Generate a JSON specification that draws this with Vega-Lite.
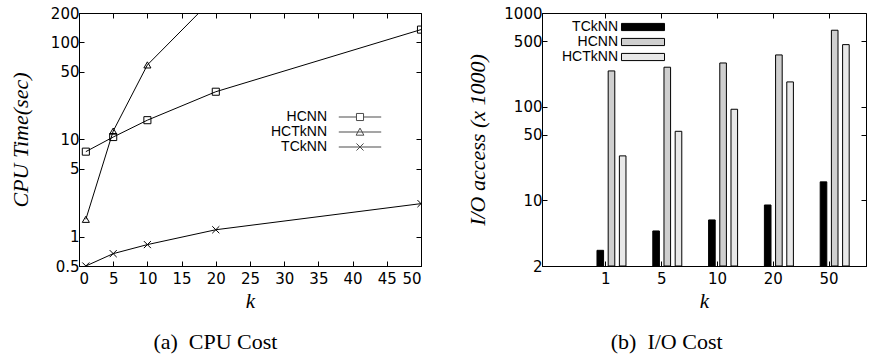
{
  "$schema": "https://vega.github.io/schema/vega-lite/v6.json",
  "padding": {"left": 8, "top": 5, "right": 1, "bottom": 0},
  "background": "white",
  "spacing": 44,
  "config": {
    "view": {"stroke": "black", "strokeWidth": 1},
    "axis": {
      "grid": false,
      "labelFont": "DejaVu Sans",
      "labelFontSize": 15,
      "labelColor": "black",
      "titleFont": "Liberation Serif",
      "titleFontStyle": "italic",
      "titleFontWeight": "normal",
      "titleFontSize": 22,
      "titleColor": "black",
      "tickColor": "black",
      "domainColor": "black",
      "tickSize": -5,
      "labelPadding": 5
    },
    "axisX": {"labelPadding": 10},
    "legend": {
      "labelFont": "Liberation Sans",
      "labelFontSize": 14,
      "labelColor": "black"
    },
    "title": {"font": "Liberation Serif", "fontSize": 22, "fontWeight": "normal", "color": "black"}
  },
  "datasets": {
    "cpu": [
      {"k": 1, "method": "HCNN", "time": 7.5},
      {"k": 5, "method": "HCNN", "time": 10.6},
      {"k": 10, "method": "HCNN", "time": 15.8},
      {"k": 20, "method": "HCNN", "time": 31},
      {"k": 50, "method": "HCNN", "time": 135},
      {"k": 1, "method": "HCTkNN", "time": 1.51},
      {"k": 5, "method": "HCTkNN", "time": 12.2},
      {"k": 10, "method": "HCTkNN", "time": 58.5},
      {"k": 20, "method": "HCTkNN", "time": 300},
      {"k": 50, "method": "HCTkNN", "time": 2000},
      {"k": 1, "method": "TCkNN", "time": 0.5},
      {"k": 5, "method": "TCkNN", "time": 0.67},
      {"k": 10, "method": "TCkNN", "time": 0.83},
      {"k": 20, "method": "TCkNN", "time": 1.18},
      {"k": 50, "method": "TCkNN", "time": 2.19}
    ],
    "io": [
      {"k": 1, "method": "TCkNN", "io": 2.94},
      {"k": 5, "method": "TCkNN", "io": 4.73},
      {"k": 10, "method": "TCkNN", "io": 6.2},
      {"k": 20, "method": "TCkNN", "io": 8.95},
      {"k": 50, "method": "TCkNN", "io": 15.8},
      {"k": 1, "method": "HCNN", "io": 241},
      {"k": 5, "method": "HCNN", "io": 264},
      {"k": 10, "method": "HCNN", "io": 293},
      {"k": 20, "method": "HCNN", "io": 357},
      {"k": 50, "method": "HCNN", "io": 655},
      {"k": 1, "method": "HCTkNN", "io": 29.9},
      {"k": 5, "method": "HCTkNN", "io": 54.7},
      {"k": 10, "method": "HCTkNN", "io": 94},
      {"k": 20, "method": "HCTkNN", "io": 184},
      {"k": 50, "method": "HCTkNN", "io": 460}
    ]
  },
  "hconcat": [
    {
      "width": 342,
      "height": 253,
      "data": {"name": "cpu"},
      "title": {"text": "(a)\u00a0 CPU Cost", "orient": "bottom", "frame": "bounds", "anchor": "middle", "offset": 21},
      "layer": [
        {
          "mark": {"type": "line", "clip": true, "color": "black", "strokeWidth": 1},
          "encoding": {
            "x": {"field": "k", "type": "quantitative", "scale": {"domain": [0, 50], "nice": false},
                  "axis": {"values": [0, 5, 10, 15, 20, 25, 30, 35, 40, 45, 50], "title": "k", "titleFontSize": 21, "titlePadding": 4}},
            "y": {"field": "time", "type": "quantitative", "scale": {"type": "log", "domain": [0.5, 200], "nice": false},
                  "axis": {"values": [0.5, 1, 5, 10, 50, 100, 200], "format": "~g", "title": "CPU Time(sec)", "titlePadding": 18}},
            "detail": {"field": "method"}
          }
        },
        {
          "mark": {"type": "point", "clip": true, "filled": false, "color": "black", "size": 50, "strokeWidth": 1, "opacity": 1},
          "encoding": {
            "x": {"field": "k", "type": "quantitative",
                  "axis": {"orient": "top", "values": [0, 5, 10, 15, 20, 25, 30, 35, 40, 45, 50], "labels": false, "domain": false, "title": null}},
            "y": {"field": "time", "type": "quantitative",
                  "axis": {"orient": "right", "values": [0.5, 1, 5, 10, 50, 100, 200], "labels": false, "domain": false, "title": null}},
            "shape": {"field": "method", "type": "nominal",
                      "scale": {"domain": ["HCNN", "HCTkNN", "TCkNN"], "range": ["square", "triangle-up", "M-1,-1L1,1M-1,1L1,-1"]},
                      "legend": null}
          }
        },
        {
          "transform": [{"filter": "datum.k < 0"}],
          "mark": {"type": "point", "filled": false, "color": "black", "size": 50, "strokeWidth": 1},
          "encoding": {
            "shape": {"field": "method", "type": "nominal",
                      "scale": {"domain": ["HCNN", "HCTkNN", "TCkNN"],
                                "range": ["M-6,0H-1M1,0H6M-1,-1H1V1H-1Z", "M-6,0H6M0,-1.1L1.1,0.9H-1.1Z", "M-6,0H6M-1,-1L1,1M-1,1L1,-1"]},
                      "legend": {"orient": "none", "legendX": 274, "legendY": 97, "title": null,
                                 "labelAlign": "right", "labelOffset": -40, "rowPadding": 1, "symbolSize": 50,
                                 "symbolStrokeColor": "black", "symbolFillColor": "transparent", "symbolStrokeWidth": 1}}
          }
        }
      ],
      "resolve": {"axis": {"x": "independent", "y": "independent"}, "scale": {"shape": "independent"}, "legend": {"shape": "independent"}}
    },
    {
      "width": 324,
      "height": 253,
      "data": {"name": "io"},
      "title": {"text": "(b)\u00a0 I/O Cost", "orient": "bottom", "frame": "bounds", "anchor": "middle", "offset": 21},
      "layer": [
        {
          "mark": {"type": "bar", "stroke": "black", "strokeWidth": 1},
          "encoding": {
            "x": {"field": "k", "type": "ordinal", "scale": {"paddingInner": 0, "paddingOuter": 0.403, "align": 0.8},
                  "axis": {"labelAngle": 0, "title": "k", "titleFontSize": 21, "titlePadding": 4}},
            "xOffset": {"field": "method", "type": "nominal", "sort": ["TCkNN", "HCNN", "HCTkNN"],
                        "scale": {"range": [19, 48], "paddingInner": 0.41, "paddingOuter": 0}},
            "y": {"field": "io", "type": "quantitative", "scale": {"type": "log", "domain": [2, 1000], "nice": false},
                  "axis": {"values": [2, 10, 50, 100, 500, 1000], "format": "~g", "title": "I/O access (x 1000)", "titlePadding": 14}},
            "y2": {"datum": 2},
            "fill": {"field": "method", "type": "nominal",
                     "scale": {"domain": ["TCkNN", "HCNN", "HCTkNN"], "range": ["#000000", "#cfcfcf", "#e8e8e8"]},
                     "legend": {"orient": "none", "legendX": 556, "legendY": 6, "title": null,
                                "labelAlign": "right", "labelOffset": -33, "rowPadding": -1,
                                "symbolType": "M-3,-0.5H3V0.5H-3Z", "symbolSize": 206,
                                "symbolStrokeColor": "black", "symbolStrokeWidth": 1}}
          }
        },
        {
          "mark": {"type": "point", "opacity": 0},
          "encoding": {
            "x": {"field": "k", "type": "ordinal",
                  "axis": {"orient": "top", "labels": false, "domain": false, "title": null}},
            "y": {"field": "io", "type": "quantitative",
                  "axis": {"orient": "right", "values": [2, 10, 50, 100, 500, 1000], "labels": false, "domain": false, "title": null}}
          }
        }
      ],
      "resolve": {"axis": {"x": "independent", "y": "independent"}}
    }
  ]
}
